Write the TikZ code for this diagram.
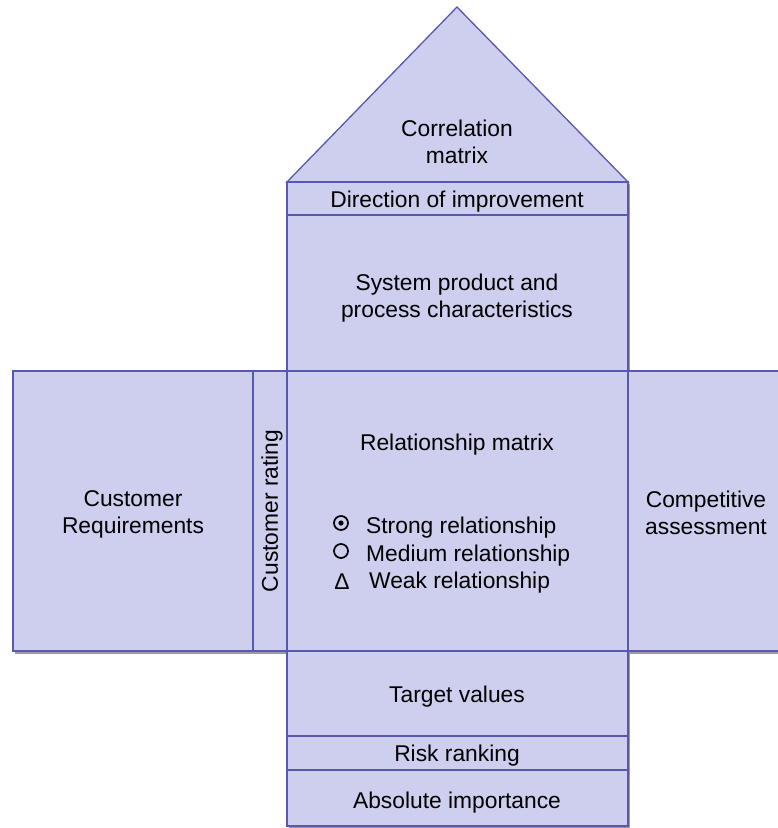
\documentclass[tikz,border=0pt]{standalone}
\usepackage{fontspec}
\setmainfont{Liberation Sans}
\usetikzlibrary{shadows}
\definecolor{boxfill}{RGB}{206,206,238}
\definecolor{boxline}{RGB}{88,88,176}
\tikzset{
  part/.style={draw=boxline, fill=boxfill, line width=1.3pt,
    drop shadow={shadow xshift=2pt, shadow yshift=-3pt, fill=black!55, opacity=0.7}},
  lbl/.style={font=\fontsize{22.8}{27}\selectfont, text=black, align=center, inner sep=0pt},
  sym/.style={draw=black, line width=1.7pt}
}
\begin{document}
\begin{tikzpicture}[x=1pt,y=-1pt]
\useasboundingbox (0,0) rectangle (778,828);
\fill[white] (0,0) rectangle (778,828);
% roof
\path[part] (287,182) -- (457,7) -- (628,182) -- cycle;
\path[part] (287,182) rectangle (628,215);
\path[part] (287,215) rectangle (628,371);
\path[part] (13,371) rectangle (253,651);
\path[part] (253,371) rectangle (287,651);
\path[part] (287,371) rectangle (628,651);
\path[part] (628,371) rectangle (784,651);
\path[part] (287,651) rectangle (628,736);
\path[part] (287,736) rectangle (628,770);
\path[part] (287,770) rectangle (628,826);
% labels
\node[lbl] (corr) at (457,142) {Correlation\\matrix};
\node[lbl] (dir) at (457,202) {Direction of improvement};
\node[lbl] (sys) at (457,298) {System product and\\process characteristics};
\node[lbl] (creq) at (133,514) {Customer\\Requirements};
\node[lbl, rotate=90] (crat) at (272,511) {Customer rating};
\node[lbl] (rel) at (457,445) {Relationship matrix};
\node[lbl] (comp) at (706,513) {Competitive\\assessment};
\node[lbl] (tv) at (457,697) {Target values};
\node[lbl] (rr) at (457,756) {Risk ranking};
\node[lbl] (ai) at (457,803) {Absolute importance};
% legend
\node[lbl, anchor=west] (strong) at (366,528) {Strong relationship};
\node[lbl, anchor=west] (medium) at (366,556) {Medium relationship};
\node[lbl, anchor=west] (weak) at (369,583) {Weak relationship};
\draw[sym] (341,523) circle (7);
\fill[black] (341,523) circle (2.6);
\draw[sym] (341,551) circle (7);
\node[lbl] (delta) at (342,582) {Δ};
\end{tikzpicture}
\end{document}
